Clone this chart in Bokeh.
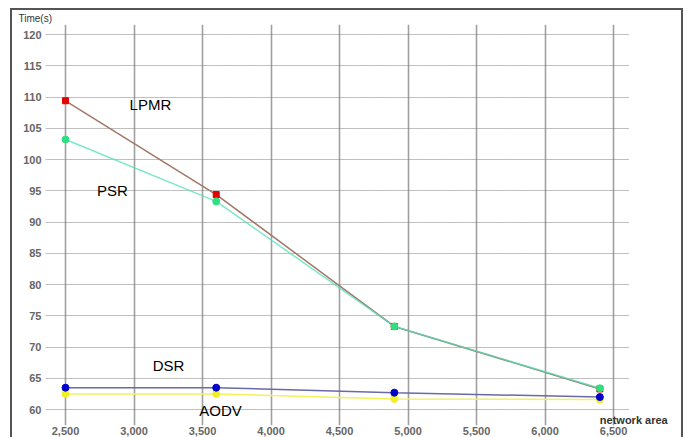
from bokeh.plotting import figure
from bokeh.models import Range1d, FixedTicker, NumeralTickFormatter, Label
from bokeh.embed import file_html
from bokeh.resources import INLINE

# ---- data ----
network_area = [2500, 3600, 4900, 6400]
lpmr = [109.4, 94.4, 73.3, 63.3]
psr = [103.2, 93.3, 73.3, 63.4]
dsr = [63.5, 63.5, 62.7, 62.0]
aodv = [62.5, 62.5, 61.7, 61.6]
series_names = ["LPMR", "PSR", "DSR", "AODV"]
x_ticks = [2500, 3000, 3500, 4000, 4500, 5000, 5500, 6000, 6500]
y_ticks = [60, 65, 70, 75, 80, 85, 90, 95, 100, 105, 110, 115, 120]

X0, X1 = 2354, 6996
p = figure(width=669, height=427, output_backend="svg", toolbar_location=None,
           x_range=Range1d(X0, X1), y_range=Range1d(57.45, 121.6),
           min_border_left=33, min_border_right=0, min_border_top=0, min_border_bottom=0,
           background_fill_color="white", border_fill_color="white")
p.styles = {"margin": "10px 0px 0px 12px", "outline": "2px solid #555555"}
p.outline_line_color = None

# title used as the y-axis caption
p.title.text = "Time(s)"
p.title.align = "left"
p.title.offset = -27
p.title.standoff = 1
p.title.text_font = "Liberation Sans"
p.title.text_font_size = "10px"
p.title.text_font_style = "normal"
p.title.text_color = "#333333"

# grids
p.xgrid.ticker = FixedTicker(ticks=x_ticks)
p.ygrid.ticker = FixedTicker(ticks=y_ticks)
p.xgrid.grid_line_color = "#a0a0a0"
p.xgrid.grid_line_width = 1.6
p.ygrid.grid_line_color = "#808080"
p.ygrid.grid_line_dash = "1 1"
p.ygrid.grid_line_width = 1
yg = p.ygrid[0]
if "cross_bounds" in yg.properties():
    yg.cross_bounds = (X0, 6609)

# axes
p.xaxis.ticker = FixedTicker(ticks=x_ticks)
p.yaxis.ticker = FixedTicker(ticks=y_ticks)
p.xaxis.formatter = NumeralTickFormatter(format="0,0")
for ax in (p.xaxis[0], p.yaxis[0]):
    ax.axis_line_color = None
    ax.major_tick_line_color = None
    ax.minor_tick_line_color = None
    ax.major_tick_out = 0
    ax.major_tick_in = 0
    ax.minor_tick_out = 0
    ax.major_label_text_font = "Liberation Sans"
    ax.major_label_text_font_style = "bold"
    ax.major_label_text_color = "#666666"
    ax.major_label_text_font_size = "11px"
p.xaxis.major_label_standoff = 1
p.yaxis.major_label_standoff = 4

# series
p.line(network_area, aodv, line_color="#f2f25a", line_width=1.5)
p.line(network_area, dsr, line_color="#6a6aa8", line_width=1.5)
p.line(network_area, lpmr, line_color="#a07868", line_width=1.5)
p.line(network_area, psr, line_color="#50e0b8", line_width=1.5, alpha=0.75)

p.scatter(network_area, aodv, marker="circle", size=7, fill_color="#f0f020", line_color="#f0f020")
p.scatter(network_area, dsr, marker="circle", size=7, fill_color="#0000cc", line_color="#0000cc")
p.scatter(network_area, lpmr, marker="square", size=6, fill_color="#e00000", line_color="#e00000")
p.scatter(network_area, psr, marker="circle", size=7, fill_color="#30e080", line_color="#30e080")

# series labels
label_pos = [(3120, 108.8), (2843, 95.1), (3252, 67.0), (3631, 59.85)]
for name, (lx, ly) in zip(series_names, label_pos):
    p.add_layout(Label(x=lx, y=ly, text=name, text_font="Liberation Sans",
                       text_font_size="15px", text_color="black",
                       text_align="center", text_baseline="middle"))

p.add_layout(Label(x=6400, y=58.3, text="network area", text_font="Liberation Sans",
                   text_font_size="11px", text_font_style="bold", text_color="#333333",
                   text_align="left", text_baseline="middle"))

open("out.html", "w").write(file_html(p, INLINE))
